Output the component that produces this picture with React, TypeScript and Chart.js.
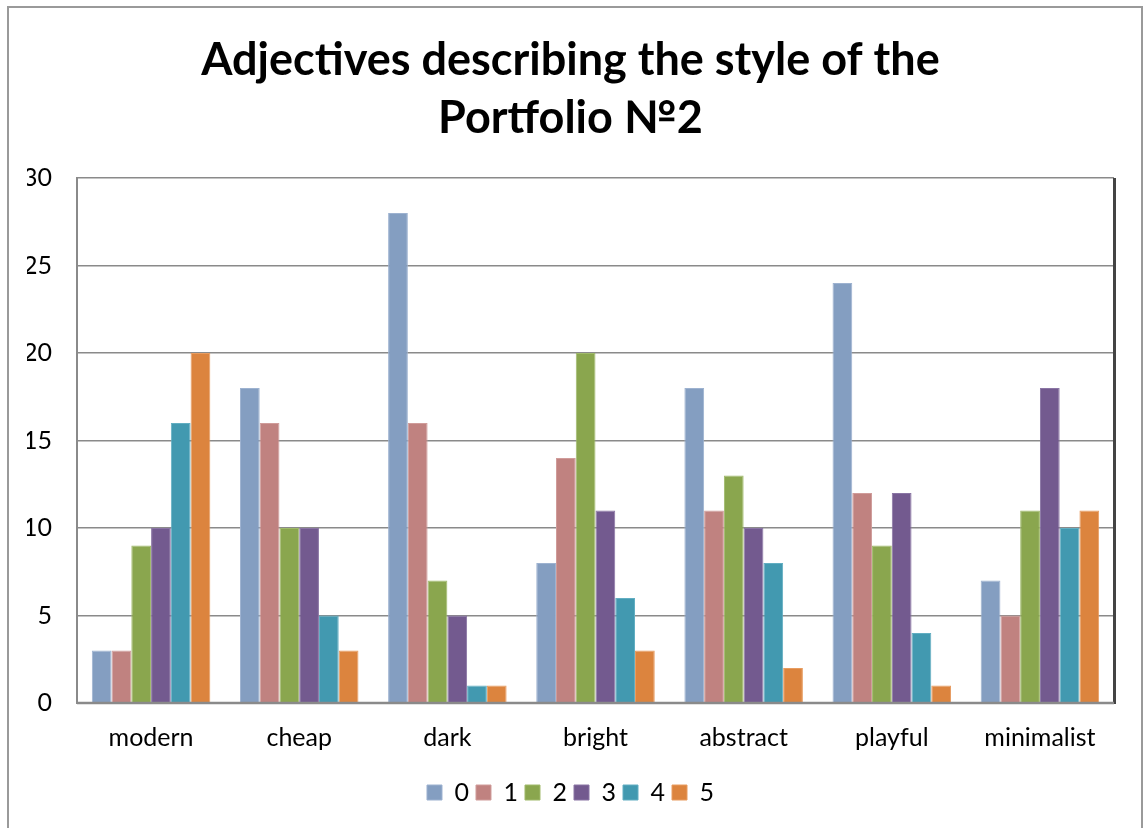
import React, { useEffect, useRef } from "react";
import { Chart, registerables } from "chart.js";

Chart.register(...registerables);

const categories = ["modern", "cheap", "dark", "bright", "abstract", "playful", "minimalist"];
const seriesLabels = ["0", "1", "2", "3", "4", "5"];
const s0 = [3, 18, 28, 8, 18, 24, 7];
const s1 = [3, 16, 16, 14, 11, 12, 5];
const s2 = [9, 10, 7, 20, 13, 9, 11];
const s3 = [10, 10, 5, 11, 10, 12, 18];
const s4 = [16, 5, 1, 6, 8, 4, 10];
const s5 = [20, 3, 1, 3, 2, 1, 11];
const seriesColors = ["#849EC1", "#C08280", "#8AA64E", "#735A8F", "#4299B0", "#DC843E"];
const seriesBorders = ["#9DB2D0", "#D09C9A", "#A0BA6A", "#8A75A4", "#62AEC2", "#E89C60"];
const titleLines = ["Adjectives describing the style of the", "Portfolio №2"];
const FONT = "Lato, 'Open Sans', sans-serif";

const framePlugin = {
  id: "frame",
  beforeDraw(chart: any) {
    const { ctx } = chart;
    ctx.save();
    ctx.fillStyle = "#ffffff";
    ctx.fillRect(0, 0, chart.width, chart.height);
    ctx.strokeStyle = "#9a9a9a";
    ctx.lineWidth = 2;
    ctx.strokeRect(8, 7, 1134, 830);
    ctx.restore();
  },
  afterDatasetsDraw(chart: any) {
    const { ctx, chartArea } = chart;
    ctx.save();
    ctx.strokeStyle = "#444444";
    ctx.lineWidth = 3;
    ctx.beginPath();
    ctx.moveTo(chartArea.right + 0.5, chartArea.top);
    ctx.lineTo(chartArea.right + 0.5, chartArea.bottom + 1);
    ctx.stroke();
    ctx.strokeStyle = "#8a8a8a";
    ctx.lineWidth = 2.5;
    ctx.beginPath();
    ctx.moveTo(chartArea.left, chartArea.bottom);
    ctx.lineTo(chartArea.right, chartArea.bottom);
    ctx.stroke();
    ctx.restore();
  },
};

export default function App() {
  const ref = useRef<HTMLCanvasElement>(null);
  useEffect(() => {
    const all = [s0, s1, s2, s3, s4, s5];
    const chart = new Chart(ref.current!, {
      type: "bar",
      data: {
        labels: categories,
        datasets: all.map((d, i) => ({
          label: seriesLabels[i],
          data: d,
          backgroundColor: seriesColors[i],
          borderColor: seriesBorders[i],
          borderWidth: 1,
          borderSkipped: "bottom",
        })),
      },
      options: {
        responsive: false,
        animation: false,
        devicePixelRatio: 1,
        layout: { padding: { left: 27, right: 30, top: 0, bottom: 13 } },
        plugins: {
          title: {
            display: true,
            text: titleLines,
            color: "#000",
            font: { family: FONT, size: 45, weight: "bold", lineHeight: 1.3 },
            padding: { top: 31, bottom: 30 },
          },
          legend: {
            position: "bottom",
            labels: {
              color: "#000",
              font: { family: FONT, size: 25 },
              boxWidth: 15,
              boxHeight: 15,
              padding: 7,
            },
          },
          tooltip: { enabled: false },
        },
        datasets: { bar: { categoryPercentage: 0.8, barPercentage: 1 } },
        scales: {
          x: {
            grid: { display: false, drawTicks: false },
            border: { display: true, color: "#8a8a8a", width: 2 },
            ticks: { color: "#000", font: { family: FONT, size: 25 }, padding: 20 },
          },
          y: {
            min: 0,
            max: 30,
            afterFit: (scale: any) => {
              scale.width = 50;
            },
            ticks: { stepSize: 5, color: "#000", font: { family: FONT, size: 25 }, padding: 25 },
            grid: { color: "#8a8a8a", lineWidth: 1.5, drawTicks: false },
            border: { display: true, color: "#8a8a8a", width: 2 },
          },
        },
      },
      plugins: [framePlugin],
    });
    return () => chart.destroy();
  }, []);
  return (
    <div style={{ position: "fixed", left: 0, top: 0, width: 1144, height: 828, background: "#fff" }}>
      <canvas ref={ref} width={1144} height={828} style={{ display: "block" }} />
    </div>
  );
}
